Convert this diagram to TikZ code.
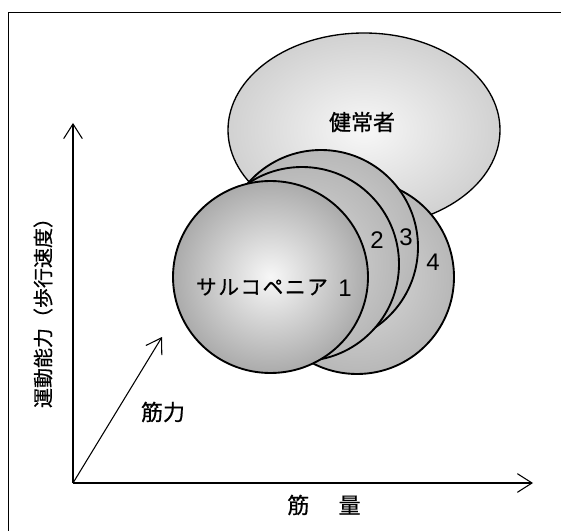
\documentclass[tikz,border=0pt]{standalone}
\usepackage{fontspec}
\setmainfont{Liberation Sans}
\newfontfamily\jp[FakeBold=0.6]{Noto Sans CJK JP}
\usetikzlibrary{arrows.meta}
\tikzset{
  axisline/.style={draw=black, line width=0.8pt, -{Straight Barb[length=11pt,width=14pt,line width=0.8pt]}},
  blob/.style={draw=black, line width=1.4pt},
  jplbl/.style={font=\jp\fontsize{16.5pt}{16.5pt}\selectfont, inner sep=0pt},
  numlbl/.style={font=\fontsize{18pt}{18pt}\selectfont, inner sep=0pt},
}
\begin{document}
\begin{tikzpicture}[x=0.75pt,y=-0.75pt]
\useasboundingbox (0,0) rectangle (561,531);
% frame
\coordinate (fb) at (8,531);
\coordinate (fc) at (8,12);
\coordinate (fr) at (561,12);
\draw[line width=0.6pt] (fb) -- (fc) -- (fr);
% blobs (back to front)
\shadedraw[blob, line width=1pt, inner color=black!3, outer color=black!18] (364,130) ellipse [x radius=136, y radius=97];
\shadedraw[blob, inner color=black!14, outer color=black!28] (357,277) circle [radius=97];
\shadedraw[blob, inner color=black!14, outer color=black!28] (321,247) circle [radius=97];
\shadedraw[blob, inner color=black!14, outer color=black!28] (302,264) circle [radius=97];
\shadedraw[blob, inner color=black!3, outer color=black!33] (270.5,277) ellipse [x radius=97.5, y radius=96];
% labels in blobs
\node[jplbl] (healthy) at (362,122) {健常者};
\node[jplbl, font=\jp\fontsize{15.5pt}{15.5pt}\selectfont\addfontfeature{LetterSpace=8}] (sarco) at (262,287) {サルコペニア};
\node[numlbl] (n1) at (345,288) {1};
\node[numlbl] (n2) at (377,240) {2};
\node[numlbl] (n3) at (406,237) {3};
\node[numlbl] (n4) at (433,262) {4};
% axes
\coordinate (O) at (73,483);
\coordinate (Ytip) at (73,123);
\coordinate (Xtip) at (533,483);
\coordinate (Dtip) at (162,337);
\draw[axisline] (O) -- (Ytip);
\draw[axisline] (O) -- (Xtip);
\draw[axisline] (O) -- (Dtip);
% axis labels
\node[jplbl, font=\jp\fontsize{15pt}{15pt}\selectfont, rotate=90] (ylab) at (43,308) {運動能力（歩行速度）};
\node[jplbl] (xlab) at (324,505) {筋\hspace{22pt}量};
\node[jplbl] (dlab) at (163,412) {筋力};
\end{tikzpicture}
\end{document}
